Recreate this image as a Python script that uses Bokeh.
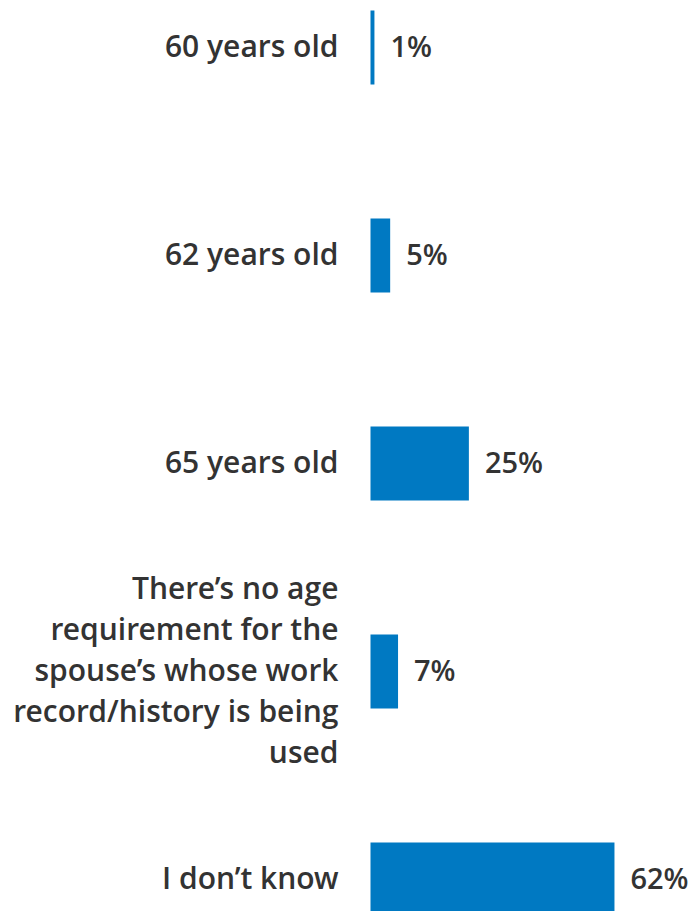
from bokeh.plotting import figure
from bokeh.models import ColumnDataSource, Range1d
from bokeh.core.properties import value
from bokeh.embed import file_html
from bokeh.resources import INLINE

categories = [
    "60 years old",
    "62 years old",
    "65 years old",
    "There\u2019s no age\nrequirement for the\nspouse\u2019s whose work\nrecord/history is being\nused",
    "I don\u2019t know",
]
values = [1, 5, 25, 7, 62]
value_labels = ["1%", "5%", "25%", "7%", "62%"]

positions = list(range(len(categories)))
src = ColumnDataSource(dict(y=positions, v=values, cat=categories, lab=value_labels,
                            zero=[0] * len(values)))

W, H = 696, 911
px_per_unit = 3.935
bar_left = 370
x_start = -bar_left / px_per_unit
x_end = (W - bar_left) / px_per_unit
row = 208.0
first = 47.0
y_top = -first / row
y_bot = (H - first) / row

p = figure(width=W, height=H, output_backend="svg", toolbar_location=None,
           x_range=Range1d(x_start, x_end), y_range=Range1d(y_bot, y_top),
           min_border=0, outline_line_color=None)
p.axis.visible = False
p.grid.visible = False
p.background_fill_color = "white"
p.border_fill_color = "white"

p.hbar(y="y", left="zero", right="v", height=74 / row, source=src,
       fill_color="#0079C2", line_color=None)

font = value("Open Sans SemiBold")
p.text(x="zero", y="y", text="cat", source=src, x_offset=-32, y_offset=-2,
       text_align="right", text_baseline="middle", text_font=font,
       text_font_style="normal", text_font_size="30px", text_color="#333333",
       text_line_height=1.0)
p.text(x="v", y="y", text="lab", source=src, x_offset=16, y_offset=-2,
       text_align="left", text_baseline="middle", text_font=font,
       text_font_style="normal", text_font_size="29px", text_color="#333333")

open("out.html", "w").write(file_html(p, INLINE))
